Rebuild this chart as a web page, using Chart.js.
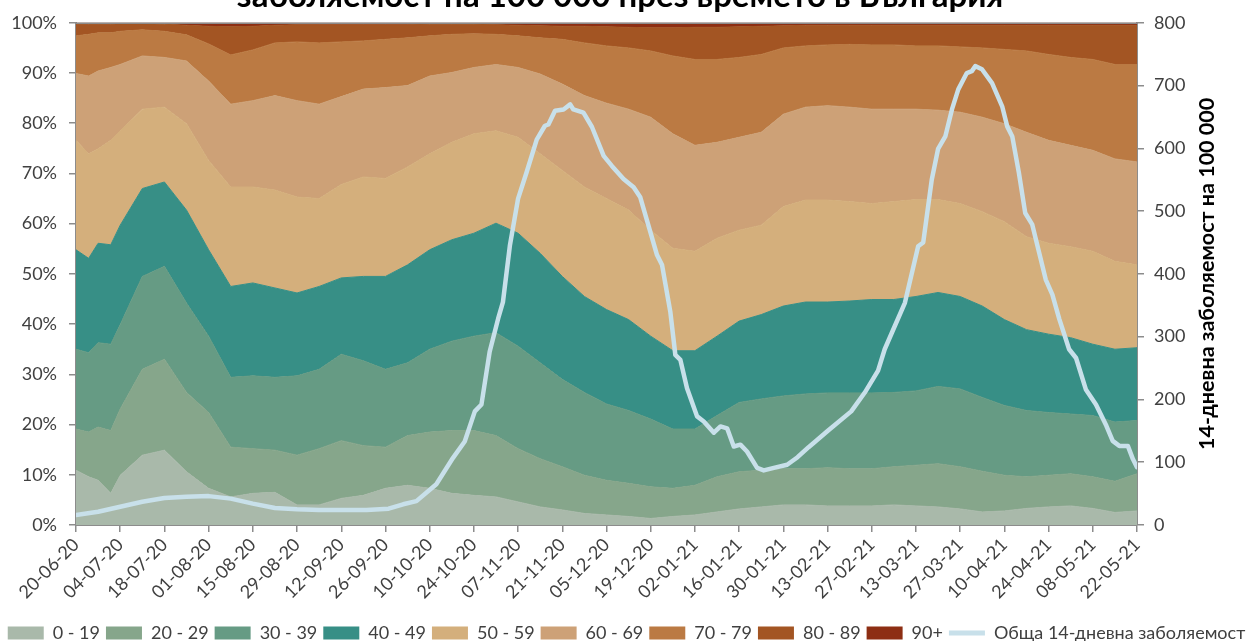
<!DOCTYPE html>
<html>
<head>
<meta charset="utf-8">
<script src="https://cdn.jsdelivr.net/npm/chart.js@4.4.1/dist/chart.umd.min.js"></script>
<style>
html,body{margin:0;padding:0;background:#fff;}
#wrap{width:1253px;height:641px;position:relative;}
canvas{display:block;}
</style>
</head>
<body>
<div id="wrap"><canvas id="c" width="1253" height="641"></canvas></div>
<script>
// ---- data (day index counted from 20-06-2020) ----
const START_UTC = Date.UTC(2020, 5, 20);
const titleText = 'заболяемост на 100 000 през времето в България';
const rightAxisTitle = '14-дневна заболяемост на 100 000';
const lineLabel = 'Обща 14-дневна заболяемост';
const groupLabels = ['0 - 19','20 - 29','30 - 39','40 - 49','50 - 59','60 - 69','70 - 79','80 - 89','90+'];

const days = [0,4,7,11,14,21,28,35,42,49,56,63,70,77,84,91,98,105,112,119,126,133,140,147,154,161,168,175,182,189,196,203,210,217,224,231,238,245,252,259,266,273,280,287,294,301,308,315,322,329,336];

// cumulative share (%) at the top of each age group
const cumTo19 = [10.9,9.6,8.9,6.3,9.9,13.9,14.9,10.6,7.3,5.6,6.3,6.5,4.0,4.0,5.3,5.9,7.3,7.9,7.3,6.3,5.9,5.6,4.6,3.6,3.0,2.3,2.0,1.7,1.3,1.7,2.0,2.6,3.2,3.6,4.0,4.0,3.8,3.8,3.8,4.0,3.8,3.6,3.2,2.6,2.8,3.3,3.6,3.8,3.3,2.5,2.8];
const cumTo29 = [19.1,18.5,19.5,18.8,23.1,31.0,33.0,26.4,22.4,15.5,15.2,14.9,13.9,15.2,16.8,15.8,15.5,17.8,18.5,18.8,18.8,17.8,15.2,13.2,11.6,9.9,8.9,8.3,7.6,7.3,7.9,9.6,10.6,10.9,11.2,11.2,11.4,11.2,11.2,11.6,11.9,12.2,11.6,10.7,9.9,9.6,9.9,10.2,9.6,8.7,10.2];
const cumTo39 = [35.0,34.3,36.3,36.0,39.9,49.5,51.5,44.2,37.6,29.4,29.7,29.4,29.7,31.0,34.0,32.7,31.0,32.3,35.0,36.6,37.6,38.3,35.6,32.3,29.0,26.4,24.1,22.8,21.1,19.1,19.1,21.8,24.4,25.1,25.7,26.1,26.3,26.3,26.3,26.4,26.7,27.6,27.1,25.4,23.8,22.8,22.4,22.1,21.8,20.5,20.8];
const cumTo49 = [54.8,53.1,56.1,55.8,59.7,67.0,68.3,62.7,54.8,47.5,48.2,47.2,46.2,47.5,49.2,49.5,49.5,51.8,54.8,56.8,58.1,60.1,58.1,54.1,49.5,45.5,42.9,40.9,37.6,34.7,34.7,37.6,40.6,41.9,43.6,44.4,44.4,44.6,44.9,44.9,45.5,46.3,45.5,43.6,40.9,38.9,38.0,37.3,36.0,35.0,35.3];
const cumTo59 = [76.6,73.9,74.9,76.6,78.5,82.8,83.2,79.9,72.6,67.3,67.3,66.7,65.3,65.0,67.8,69.3,69.0,71.3,73.9,76.2,77.9,78.5,77.2,73.9,70.6,67.3,65.0,62.7,58.7,55.1,54.5,57.1,58.7,59.7,63.4,64.7,64.7,64.4,64.0,64.4,64.8,64.8,64.0,62.4,60.4,57.4,56.1,55.4,54.5,52.5,51.8];
const cumTo69 = [89.9,89.4,90.4,91.1,91.7,93.4,93.1,92.4,88.4,83.8,84.5,85.5,84.5,83.8,85.3,86.8,87.1,87.5,89.4,90.1,91.1,91.7,91.1,89.8,87.8,85.5,84.0,82.8,81.2,77.9,75.6,76.2,77.2,78.2,81.8,83.2,83.5,83.2,82.8,82.8,82.8,82.6,82.2,81.2,79.9,78.2,76.6,75.6,74.6,72.9,72.3];
const cumTo79 = [97.4,97.7,98.0,98.0,98.3,98.6,98.3,97.6,95.8,93.6,94.6,96.0,96.2,96.0,96.2,96.4,96.7,97.0,97.4,97.7,97.8,97.7,97.4,97.0,96.7,96.0,95.4,95.0,94.4,93.4,92.7,92.7,93.1,93.7,95.0,95.4,95.6,95.7,95.6,95.6,95.4,95.4,95.2,95.0,94.7,94.4,93.7,93.1,92.7,91.7,91.7];
const cumTo89 = [99.7,99.7,99.7,99.7,99.8,99.8,99.7,99.5,99.3,99.2,99.3,99.5,99.6,99.6,99.6,99.6,99.6,99.6,99.7,99.7,99.7,99.6,99.5,99.4,99.3,99.3,99.2,99.1,99.0,99.0,99.1,99.1,99.2,99.3,99.4,99.5,99.5,99.5,99.5,99.5,99.5,99.5,99.5,99.5,99.5,99.5,99.5,99.5,99.5,99.5,99.5];

// total 14-day incidence per 100 000 (right axis)
const lineDays = [0,7,14,21,28,35,42,49,56,63,70,77,84,92,99,103.6,107.8,114.1,119.4,123.1,126.3,128.4,131,133.7,135.2,137.4,140,142.7,145.9,148.5,149.6,151.7,154.4,156.5,157.5,160.7,163.4,167.1,169.7,173.4,176.6,178.7,181.3,184,185.6,188.2,189.8,191.4,193.5,196.7,198.8,202,204.1,206.2,208.3,210.4,212.5,215.7,217.8,221,225.2,228.5,232,234.6,238.1,245.5,249.8,254,256.1,259.3,262.5,266.7,268.3,271,273,275.3,277.4,279.4,282.1,283.7,284.8,286.9,290.1,293.3,294.9,296.5,298.6,300.6,302.8,305,307.1,309.2,311.4,314.5,316.7,319.8,323,326.3,328.3,330.4,333.1,334.7,336];
const lineValues = [16,21,29,37,43,45,46,42,34,27,25,24,24,24,26,33,38,65,107,133,181,192,276,329,355,445,520,562,614,636,638,660,662,670,662,657,634,588,572,551,538,522,477,430,414,340,271,263,218,173,165,147,157,154,125,128,117,91,87,91,96,108,124,135,150,181,211,246,280,317,354,444,450,550,599,619,662,694,720,723,731,726,704,667,635,619,561,497,479,434,391,367,328,280,266,216,192,158,134,126,126,105,92];

const leftTicksMax = 100, rightTicksMax = 800;

// ---- styling ----
const groupColors = ['#a9b9aa','#86a68b','#669b84','#378f86','#d4af7c','#cda177','#bb7a43','#a35523','#8d2e13'];
const lineColor = '#c8e0ea';
const axisColor = '#8c8c8c';
const tickColor = '#404040';
const FONT = 'Lato';

// derive per-group shares from the cumulative boundaries
const cums = [cumTo19, cumTo29, cumTo39, cumTo49, cumTo59, cumTo69, cumTo79, cumTo89];
const shares = groupLabels.map((_, g) => days.map((d, i) => {
  const top = g < cums.length ? cums[g][i] : 100;
  const bottom = g === 0 ? 0 : cums[g - 1][i];
  return { x: d, y: +(top - bottom).toFixed(2) };
}));

const datasets = groupLabels.map((lab, g) => ({
  label: lab,
  data: shares[g],
  yAxisID: 'y',
  backgroundColor: groupColors[g],
  borderColor: groupColors[g],
  borderWidth: 1,
  fill: g === 0 ? 'origin' : '-1',
  pointRadius: 0,
  pointHoverRadius: 0,
  pointStyle: 'rect',
  pointBorderWidth: 0,
  tension: 0,
  order: 1
}));
datasets.push({
  label: lineLabel,
  data: lineDays.map((d, i) => ({ x: d, y: lineValues[i] })),
  yAxisID: 'y1',
  borderColor: lineColor,
  backgroundColor: lineColor,
  borderWidth: 4.5,
  borderJoinStyle: 'round',
  borderCapStyle: 'round',
  fill: false,
  pointRadius: 0,
  pointHoverRadius: 0,
  pointStyle: 'line',
  pointBorderWidth: 5,
  pointBorderColor: lineColor,
  tension: 0,
  order: 0
});

function fmtDate(v) {
  const dt = new Date(START_UTC + v * 86400000);
  const dd = String(dt.getUTCDate()).padStart(2, '0');
  const mm = String(dt.getUTCMonth() + 1).padStart(2, '0');
  const yy = String(dt.getUTCFullYear()).slice(2);
  return dd + '-' + mm + '-' + yy;
}

const decorPlugin = {
  id: 'decor',
  afterDraw(chart) {
    const ctx = chart.ctx, a = chart.chartArea;
    ctx.save();
    ctx.strokeStyle = axisColor;
    ctx.lineWidth = 1.5;
    ctx.beginPath();
    ctx.moveTo(a.left, a.top + 0.5);
    ctx.lineTo(a.right, a.top + 0.5);
    ctx.stroke();
    ctx.fillStyle = '#000';
    ctx.font = 'bold 33px ' + FONT;
    ctx.textAlign = 'center';
    ctx.textBaseline = 'alphabetic';
    ctx.fillText(titleText, 620, 7);
    ctx.translate(1207, (a.top + a.bottom) / 2);
    ctx.rotate(-Math.PI / 2);
    ctx.font = 'bold 21.5px ' + FONT;
    ctx.textBaseline = 'middle';
    ctx.fillText(rightAxisTitle, 0, 0);
    ctx.restore();
  }
};

const commonGrid = { display: true, drawOnChartArea: false, drawTicks: true, tickLength: 7, color: axisColor, lineWidth: 1.5 };
const commonBorder = { display: true, color: axisColor, width: 2 };
const tickFont = { family: FONT, size: 18 };

new Chart(document.getElementById('c'), {
  type: 'line',
  data: { datasets },
  plugins: [decorPlugin],
  options: {
    responsive: false,
    animation: false,
    events: [],
    layout: { padding: { top: 20, bottom: -11, left: 0, right: 0 } },
    plugins: {
      title: { display: false },
      tooltip: { enabled: false },
      legend: {
        display: true,
        position: 'bottom',
        labels: {
          usePointStyle: true,
          pointStyleWidth: 36,
          boxHeight: 13,
          padding: 6,
          color: tickColor,
          font: { family: FONT, size: 18 },
          sort: (a, b) => a.datasetIndex - b.datasetIndex
        }
      }
    },
    scales: {
      x: {
        type: 'linear',
        min: 0,
        max: 336,
        ticks: {
          stepSize: 14,
          autoSkip: false,
          maxRotation: 45,
          minRotation: 45,
          color: tickColor,
          font: tickFont,
          padding: 2,
          callback: (v) => fmtDate(v)
        },
        grid: commonGrid,
        border: commonBorder,
        afterFit: (s) => { s.height = 93; }
      },
      y: {
        stacked: true,
        min: 0,
        max: leftTicksMax,
        ticks: { stepSize: 10, color: tickColor, font: tickFont, padding: 12, callback: (v) => v + '%' },
        grid: commonGrid,
        border: commonBorder,
        afterFit: (s) => { s.width = 76; }
      },
      y1: {
        position: 'right',
        min: 0,
        max: rightTicksMax,
        ticks: { stepSize: 100, color: tickColor, font: tickFont, padding: 10 },
        grid: commonGrid,
        border: commonBorder,
        afterFit: (s) => { s.width = 116; }
      }
    }
  }
});
</script>
</body>
</html>
